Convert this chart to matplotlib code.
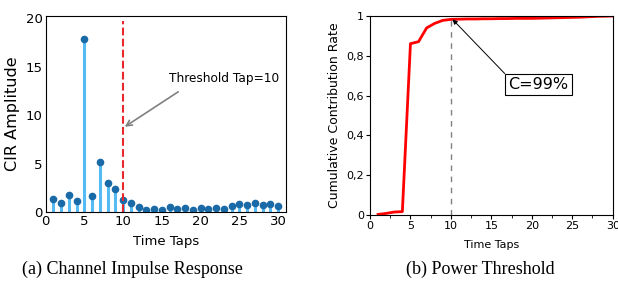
import numpy as np
import matplotlib.pyplot as plt
from matplotlib.ticker import MultipleLocator, FuncFormatter

# tap index 1..30
taps = np.arange(1, 31)

# (a) амплитуды CIR
cir_amp = [1.33, 0.92, 1.78, 1.16, 17.8, 1.68, 5.13, 3.0, 2.36, 1.26,
           0.96, 0.51, 0.24, 0.34, 0.24, 0.55, 0.31, 0.41, 0.2, 0.44,
           0.38, 0.44, 0.38, 0.65, 0.85, 0.79, 0.92, 0.75, 0.82, 0.68]

# (b) накопленная доля мощности
cum_rate = [0.003, 0.008, 0.015, 0.017, 0.861, 0.871, 0.94, 0.963, 0.978, 0.983,
            0.984, 0.985, 0.985, 0.986, 0.986, 0.987, 0.987, 0.988, 0.988, 0.988,
            0.989, 0.990, 0.991, 0.992, 0.993, 0.994, 0.996, 0.998, 0.999, 1.0]

threshold_tap = 10

fig = plt.figure(figsize=(6.18, 2.92), dpi=100)

# --- (a) Channel Impulse Response ---
ax1 = fig.add_axes([45.7 / 618, 1 - 212.3 / 292, (286 - 45.7) / 618, (212.3 - 16) / 292])
ml, sl, bl = ax1.stem(taps, cir_amp, basefmt=' ')
plt.setp(sl, color='#55bbf5', linewidth=2.2)
plt.setp(ml, color='#1a6aa8', markersize=4.5)
ax1.axvline(threshold_tap, ymax=0.975, color='#e8282c', linestyle='--', linewidth=1.5)
ax1.text(15.9, 13.8, 'Threshold Tap=10', fontsize=8.7, ha='left', va='center')
ax1.annotate('', xy=(10.2, 8.8), xytext=(17.1, 12.4),
             arrowprops=dict(arrowstyle='->', color='#808080', lw=1.2,
                             shrinkA=0, shrinkB=0))
ax1.set_xlim(0, 31)
ax1.set_ylim(0, 20.2)
ax1.set_xticks([0, 5, 10, 15, 20, 25, 30])
ax1.set_yticks([0, 5, 10, 15, 20])
ax1.tick_params(length=0, labelsize=9.5, pad=2)
ax1.set_ylabel('CIR Amplitude', fontsize=11.5, labelpad=4)
ax1.set_xlabel('Time Taps', fontsize=9.5, labelpad=5)

# --- (b) Power Threshold ---
ax2 = fig.add_axes([370 / 618, 1 - 215 / 292, (612.7 - 370) / 618, (215 - 16) / 292])
ax2.plot(taps, cum_rate, color='#ff0000', linewidth=2)
ax2.axvline(threshold_tap, color='#808080', linestyle=(0, (4, 4)), linewidth=1)
ax2.annotate('C=99%', xy=(10.2, 0.983), xytext=(20.8, 0.655),
             fontsize=11.5, ha='center', va='center',
             bbox=dict(boxstyle='square,pad=0.2', fc='white', ec='black', lw=0.8),
             arrowprops=dict(arrowstyle='-|>', color='black', lw=0.7,
                             mutation_scale=7, shrinkA=0, shrinkB=0, relpos=(0.0, 1.0)))
ax2.set_xlim(0, 30)
ax2.set_ylim(0, 1)
ax2.xaxis.set_major_locator(MultipleLocator(5))
ax2.xaxis.set_minor_locator(MultipleLocator(2.5))
ax2.yaxis.set_major_locator(MultipleLocator(0.2))
ax2.yaxis.set_major_formatter(FuncFormatter(lambda v, p: ('%g' % round(v, 1)).replace('.', ',')))
ax2.tick_params(which='major', length=3, labelsize=8, pad=1.5)
ax2.tick_params(which='minor', length=2)
ax2.set_ylabel('Cumulative Contribution Rate', fontsize=9, labelpad=4)
ax2.set_xlabel('Time Taps', fontsize=8, labelpad=6)

# подписи под графиками
fig.text(132 / 618, 1 - 269 / 292, '(a) Channel Impulse Response', fontsize=13,
         family='Liberation Serif', ha='center', va='center')
fig.text(480 / 618, 1 - 269 / 292, '(b) Power Threshold', fontsize=13,
         family='Liberation Serif', ha='center', va='center')

fig.savefig('out.png', dpi=100)
